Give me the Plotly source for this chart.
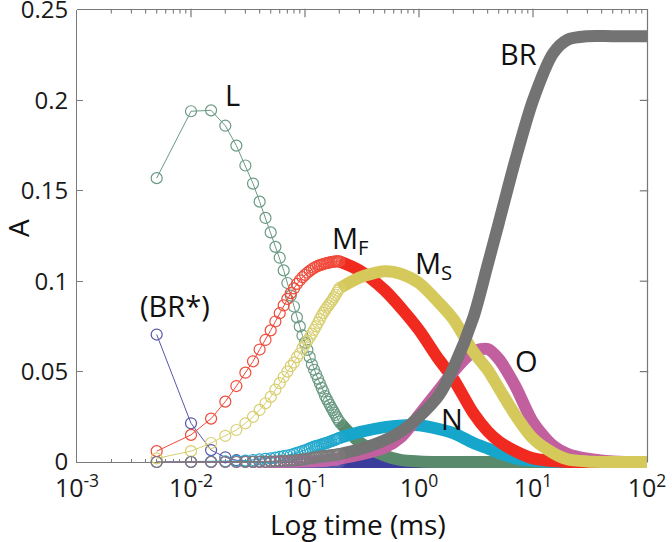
import plotly.graph_objects as go
import math

# ---------------- data ----------------
# sample times (ms) where the individual circle markers are still visible
t_sparse = [0.005, 0.010, 0.015, 0.020, 0.025, 0.030, 0.035, 0.040, 0.045, 0.050,
            0.055, 0.060, 0.065, 0.070, 0.075, 0.080, 0.085, 0.090, 0.095, 0.100,
            0.105, 0.110, 0.115, 0.120, 0.125, 0.130, 0.135, 0.140, 0.145, 0.150,
            0.155, 0.160, 0.165, 0.170, 0.175, 0.180, 0.185, 0.190, 0.195, 0.200]
L_sparse = [0.157, 0.194, 0.1945, 0.186, 0.175, 0.164, 0.154, 0.144, 0.135, 0.127,
            0.119, 0.113, 0.106, 0.099, 0.092, 0.086, 0.080, 0.075, 0.070, 0.066,
            0.062, 0.058, 0.054, 0.051, 0.0485, 0.046, 0.0435, 0.041, 0.039, 0.0365,
            0.0348, 0.0332, 0.0316, 0.0301, 0.0287, 0.0273, 0.026, 0.0247, 0.0235, 0.0223]
MF_sparse = [0.006, 0.015, 0.024, 0.0334, 0.042, 0.0494, 0.0557, 0.0622, 0.0675, 0.0728,
             0.0777, 0.0823, 0.0866, 0.0902, 0.0934, 0.096, 0.0985, 0.1005, 0.1022, 0.1035,
             0.1047, 0.1057, 0.1066, 0.1074, 0.108, 0.1085, 0.1089, 0.1092, 0.1095, 0.1098,
             0.110, 0.1102, 0.1104, 0.1106, 0.1107, 0.1108, 0.1109, 0.111, 0.111, 0.111]
MS_sparse = [0.002, 0.006, 0.0105, 0.0145, 0.0177, 0.0214, 0.025, 0.0288, 0.0325, 0.036,
             0.040, 0.0436, 0.047, 0.050, 0.053, 0.055, 0.058, 0.060, 0.063, 0.065,
             0.067, 0.069, 0.071, 0.073, 0.075, 0.077, 0.079, 0.081, 0.0825, 0.084,
             0.0853, 0.0865, 0.0877, 0.0888, 0.0899, 0.0912, 0.0924, 0.0936, 0.0948, 0.096]
N_sparse = [0.0, 0.0001, 0.0002, 0.0004, 0.0006, 0.0008, 0.0011, 0.0014, 0.0017, 0.0020,
            0.0024, 0.0028, 0.0032, 0.0036, 0.0040, 0.0045, 0.0050, 0.0055, 0.0060, 0.0065,
            0.0070, 0.0075, 0.0080, 0.0085, 0.0088, 0.0091, 0.0094, 0.0097, 0.0100, 0.0103,
            0.0106, 0.0109, 0.0112, 0.0115, 0.0118, 0.0121, 0.0124, 0.0127, 0.0130, 0.0133]
O_sparse = [0.0, 0.0, 0.0, 0.0, 0.0, 0.0, 0.0, 0.0, 0.0, 0.0001,
            0.0001, 0.0001, 0.0001, 0.0002, 0.0002, 0.0002, 0.0002, 0.0003, 0.0003, 0.0003,
            0.0003, 0.0004, 0.0004, 0.0004, 0.0005, 0.0005, 0.0006, 0.0006, 0.0007, 0.0007,
            0.0008, 0.0009, 0.0010, 0.0011, 0.0012, 0.0013, 0.0014, 0.0015, 0.0017, 0.0019]
BRstar_sparse = [0.0705, 0.0214, 0.0066, 0.0026, 0.001, 0.0004, 0.0002, 0.0001, 0.0, 0.0,
                 0.0, 0.0, 0.0, 0.0, 0.0, 0.0, 0.0, 0.0, 0.0, 0.0,
                 0.0, 0.0, 0.0, 0.0, 0.0, 0.0, 0.0, 0.0, 0.0, 0.0,
                 0.0, 0.0, 0.0, 0.0, 0.0, 0.0, 0.0, 0.0, 0.0, 0.0]
BR_sparse = [0.0, 0.0, 0.0, 0.0, 0.0, 0.0001, 0.0001, 0.0002, 0.0002, 0.0003,
             0.0004, 0.0005, 0.0006, 0.0007, 0.0008, 0.0009, 0.0010, 0.0012, 0.0014, 0.0016,
             0.0018, 0.0020, 0.0022, 0.0024, 0.0026, 0.0028, 0.0030, 0.0031, 0.0032, 0.0033,
             0.0034, 0.0035, 0.0036, 0.0037, 0.0038, 0.0039, 0.0040, 0.0041, 0.0042, 0.0043]

# dense region (markers merge into a solid band)
t_band = [0.2, 0.3, 0.5, 0.7, 1, 1.5, 2, 3, 4, 5, 7, 10, 15, 20, 30, 50, 100]
L_band = [0.0223, 0.011, 0.0035, 0.001, 0.0003, 0, 0, 0, 0, 0, 0, 0, 0, 0, 0, 0, 0]
MF_band = [0.111, 0.106, 0.095, 0.085, 0.073, 0.0565, 0.046, 0.027, 0.017, 0.0115,
           0.006, 0.002, 0.0005, 0, 0, 0, 0]
MS_band = [0.096, 0.102, 0.1055, 0.104, 0.099, 0.088, 0.079, 0.061, 0.051, 0.041,
           0.026, 0.013, 0.005, 0.0015, 0.0003, 0, 0]
N_band = [0.0133, 0.0165, 0.0193, 0.0202, 0.0203, 0.0182, 0.016, 0.0105, 0.0075, 0.005,
          0.002, 0.0007, 0.0002, 0, 0, 0, 0]
O_band = [0.0019, 0.004, 0.008, 0.014, 0.026, 0.040, 0.050, 0.061, 0.0625, 0.057,
          0.042, 0.022, 0.009, 0.0045, 0.0018, 0.0003, 0]
BRstar_band = [0, 0, 0, 0, 0, 0, 0, 0, 0, 0, 0, 0, 0, 0, 0, 0, 0]
BR_band = [0.0043, 0.007, 0.012, 0.017, 0.025, 0.037, 0.052, 0.080, 0.109, 0.132,
           0.167, 0.200, 0.226, 0.2335, 0.2355, 0.2355, 0.2355]

x_tickvals = [0.001, 0.01, 0.1, 1, 10, 100]
x_ticktext = ["10<sup>-3</sup>", "10<sup>-2</sup>", "10<sup>-1</sup>",
              "10<sup>0</sup>", "10<sup>1</sup>", "10<sup>2</sup>"]
y_tickvals = [0, 0.05, 0.1, 0.15, 0.2, 0.25]
y_ticktext = ["0", "0.05", "0.1", "0.15", "0.2", "0.25"]

# series in drawing order: (name, sparse, band, marker colour, band colour)
series = [
    ("BR*", BRstar_sparse, BRstar_band, "#5656aa", "#3c3c9c"),
    ("L", L_sparse, L_band, "#6b9a84", "#5a8a6c"),
    ("N", N_sparse, N_band, "#22a8cc", "#16a6cc"),
    ("MF", MF_sparse, MF_band, "#f04a3a", "#f02a1e"),
    ("O", O_sparse, O_band, "#c466a8", "#c2609f"),
    ("MS", MS_sparse, MS_band, "#d8cf70", "#d5c95c"),
    ("BR", BR_sparse, BR_band, "#7a7a7a", "#737373"),
]

FONT = "Open Sans"
TXT = "#1a1a1a"
axcol = "#7a7a7a"
framecol = "#777777"

# ---------------- geometry (pixels) ----------------
W, H = 672, 542
X_LEFT, X_RIGHT = 77, 647       # visible axes box
Y_TOP, Y_ZERO = 10, 462
EXT_R, EXT_T, EXT_B = 5, 5, 10  # data subplot is slightly larger so edge marks are not clipped
ML = X_LEFT
MR = W - (X_RIGHT + EXT_R)
MT = Y_TOP - EXT_T
MB = H - (Y_ZERO + EXT_B)
PW = W - ML - MR
PH = H - MT - MB
px_per_dec = (X_RIGHT - X_LEFT) / 5.0
px_per_unit = (Y_ZERO - Y_TOP) / 0.25
x2_range = [-3, 2 + EXT_R / px_per_dec]
y2_range = [-EXT_B / px_per_unit, 0.25 + EXT_T / px_per_unit]

minor_vals = []
for dec in [0.001, 0.01, 0.1, 1, 10]:
    for m in range(2, 10):
        minor_vals.append(m * dec)

fig = go.Figure()
# dummy trace so that the visible axes subplot exists
fig.add_trace(go.Scatter(x=[0.01], y=[0.1], mode="markers", marker=dict(opacity=0),
                         showlegend=False, hoverinfo="skip", xaxis="x", yaxis="y"))

for name, sp, bd, mc, bc in series:
    fig.add_trace(go.Scatter(
        x=t_band, y=bd, mode="lines", name=name + " band",
        line=dict(color=bc, width=12, shape="spline", smoothing=0.8),
        cliponaxis=False,
        showlegend=False, xaxis="x2", yaxis="y2", hoverinfo="skip"))
    fig.add_trace(go.Scatter(
        x=t_sparse, y=sp, mode="lines+markers", name=name,
        line=dict(color=mc, width=1),
        marker=dict(symbol="circle-open", size=11, color=mc, line=dict(width=1.2, color=mc)),
        cliponaxis=False, showlegend=False, xaxis="x2", yaxis="y2"))

# frame: top and right box lines
top_edge = y_tickvals[-1] + 0.5 / px_per_unit
right_edge = 10 ** (2 + 0.5 / px_per_dec)
fig.add_trace(go.Scatter(x=[10 ** (-3 - 0.5 / px_per_dec), right_edge, right_edge],
                         y=[top_edge, top_edge, -0.5 / px_per_unit], mode="lines",
                         line=dict(color=framecol, width=1.2), cliponaxis=False,
                         showlegend=False, hoverinfo="skip", xaxis="x2", yaxis="y2"))
# mirrored inward ticks on the top edge (major and minor) and on the right edge
fig.add_trace(go.Scatter(x=x_tickvals[1:-1], y=[y_tickvals[-1] - 3 / px_per_unit] * 4,
                         mode="markers", cliponaxis=False,
                         marker=dict(symbol="line-ns", size=6, color=framecol,
                                     line=dict(width=1.2, color=framecol)),
                         showlegend=False, hoverinfo="skip", xaxis="x2", yaxis="y2"))
fig.add_trace(go.Scatter(x=minor_vals, y=[y_tickvals[-1] - 1.5 / px_per_unit] * len(minor_vals),
                         mode="markers", cliponaxis=False,
                         marker=dict(symbol="line-ns", size=3, color=framecol,
                                     line=dict(width=1.1, color=framecol)),
                         showlegend=False, hoverinfo="skip", xaxis="x2", yaxis="y2"))
fig.add_trace(go.Scatter(x=[10 ** (2 - 3 / px_per_dec)] * 4, y=y_tickvals[1:-1], mode="markers",
                         cliponaxis=False,
                         marker=dict(symbol="line-ew", size=6, color=framecol,
                                     line=dict(width=1.2, color=framecol)),
                         showlegend=False, hoverinfo="skip", xaxis="x2", yaxis="y2"))

fig.update_layout(
    width=W, height=H,
    margin=dict(l=ML, r=MR, t=MT, b=MB, pad=0, autoexpand=False),
    paper_bgcolor="white", plot_bgcolor="rgba(0,0,0,0)",
    showlegend=False,
    font=dict(family=FONT, color=TXT, size=24),
    xaxis=dict(type="log", range=[-3, 2], domain=[0, (X_RIGHT - X_LEFT) / PW], anchor="y",
               tickvals=x_tickvals, ticktext=x_ticktext,
               ticks="inside", ticklen=6, tickcolor=axcol, tickwidth=1,
               showline=True, linecolor=axcol, linewidth=1, mirror=False,
               showgrid=False, zeroline=False, ticklabelstandoff=4,
               ticklabeloverflow="allow", automargin=False,
               tickfont=dict(family=FONT, size=25, color=TXT),
               minor=dict(tickvals=minor_vals, ticks="inside", ticklen=3,
                          tickcolor=axcol, showgrid=False)),
    yaxis=dict(range=[0, 0.25],
               domain=[EXT_B / PH, (PH - EXT_T) / PH], anchor="x",
               tickvals=y_tickvals, ticktext=y_ticktext,
               ticks="inside", ticklen=6, tickcolor=axcol, tickwidth=1,
               showline=True, linecolor=axcol, linewidth=1, mirror=False,
               showgrid=False, zeroline=False, ticklabeloverflow="allow",
               ticklabelstandoff=3, automargin=False,
               tickfont=dict(family=FONT, size=24, color=TXT)),
    xaxis2=dict(type="log", range=x2_range, domain=[0, 1], anchor="y2", visible=False,
                automargin=False),
    yaxis2=dict(range=y2_range, domain=[0, 1], anchor="x2", visible=False,
                automargin=False),
)

ann_font = dict(family=FONT, size=29, color="#111111")
labels = [
    ("L", -1.632, 0.203, "center"),
    ("(BR*)", -2.140, 0.0868, "center"),
    ("M<sub>F</sub>", -0.781, 0.1228, "left"),
    ("M<sub>S</sub>", -0.050, 0.1095, "left"),
    ("N", 0.287, 0.0242, "center"),
    ("O", 0.945, 0.0564, "center"),
    ("BR", 0.871, 0.226, "center"),
]
for txt, lx, ly, xa in labels:
    fig.add_annotation(x=lx, y=ly, xref="x2", yref="y2", text=txt, showarrow=False,
                       xanchor=xa, yanchor="middle", font=ann_font)

fig.add_annotation(x=(358 - ML) / PW, y=(H - MB - 524) / PH, xref="paper", yref="paper",
                   text="Log time (ms)", showarrow=False, xanchor="center", yanchor="middle",
                   font=dict(family=FONT, size=28, color="#111111"))
fig.add_annotation(x=(18 - ML) / PW, y=(H - MB - 228) / PH, xref="paper", yref="paper",
                   text="A", textangle=-90, showarrow=False, xanchor="center", yanchor="middle",
                   font=dict(family=FONT, size=28, color="#111111"))

fig.write_html("out.html", config={"displayModeBar": False},
               post_script="document.body.style.margin='0px';document.body.style.overflow='hidden';")
